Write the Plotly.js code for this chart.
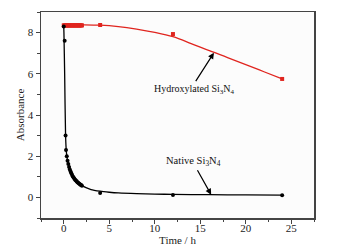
<!DOCTYPE html>
<html><head><meta charset="utf-8">
<script src="https://cdn.plot.ly/plotly-3.0.1.min.js"></script>
<style>html,body{margin:0;padding:0;background:#fff}#c{width:341px;height:252px}</style>
</head><body><div id="c"></div>
<script>
// Native Si3N4 measured points
const nativeT = [0, 0.1, 0.2, 0.25, 0.333, 0.417, 0.5, 0.583, 0.667, 0.75, 0.833, 0.917, 1.0, 1.083, 1.167, 1.25, 1.333, 1.417, 1.5, 1.583, 1.667, 1.75, 1.833, 1.917, 2.0, 4, 12, 24];
const nativeA = [8.3, 7.6, 3.0, 2.3, 2.0, 1.78, 1.62, 1.48, 1.36, 1.26, 1.17, 1.09, 1.02, 0.96, 0.91, 0.86, 0.82, 0.78, 0.74, 0.71, 0.68, 0.65, 0.62, 0.6, 0.57, 0.21, 0.12, 0.1];
// Native fit curve
const nativeFitT = [0, 0.02, 0.1, 0.2, 0.3, 0.5, 0.75, 1.0, 1.5, 2.0, 3, 4, 5, 6, 8, 10, 12, 16, 20, 24];
const nativeFitA = [8.3, 8.0, 6.0, 3.0, 2.15, 1.62, 1.26, 1.02, 0.74, 0.57, 0.38, 0.3, 0.25, 0.215, 0.18, 0.16, 0.145, 0.13, 0.12, 0.11];
// Hydroxylated Si3N4 measured points
const hydroT = [0, 0.083, 0.167, 0.25, 0.333, 0.417, 0.5, 0.583, 0.667, 0.75, 0.833, 0.917, 1.0, 1.083, 1.167, 1.25, 1.333, 1.417, 1.5, 1.583, 1.667, 1.75, 1.833, 1.917, 2.0, 4, 12, 24];
const hydroA = [8.35, 8.35, 8.35, 8.35, 8.35, 8.35, 8.35, 8.35, 8.35, 8.35, 8.35, 8.35, 8.35, 8.35, 8.35, 8.35, 8.35, 8.35, 8.35, 8.35, 8.35, 8.35, 8.35, 8.35, 8.35, 8.37, 7.93, 5.75];
// Hydroxylated fit curve
const hydroFitT = [0, 2, 4, 6, 8, 10, 12, 14, 16, 18, 20, 22, 24];
const hydroFitA = [8.38, 8.38, 8.36, 8.29, 8.17, 8.01, 7.8, 7.47, 7.12, 6.79, 6.45, 6.1, 5.75];

const xTicks = [0, 5, 10, 15, 20, 25];
const yTicks = [0, 2, 4, 6, 8];

const serif = "Liberation Serif, Times New Roman, serif";
const red = "#e0251f";

const traces = [
  {x: hydroFitT, y: hydroFitA, mode: "lines", line: {color: red, width: 1.3, shape: "spline"}, hoverinfo: "skip"},
  {x: hydroT, y: hydroA, mode: "markers", marker: {symbol: "square", size: 4, color: red}},
  {x: nativeFitT, y: nativeFitA, mode: "lines", line: {color: "#000", width: 1.3, shape: "spline", smoothing: 0.6}, hoverinfo: "skip"},
  {x: nativeT, y: nativeA, mode: "markers", marker: {symbol: "circle", size: 4, color: "#000"}}
];

const axisCommon = {
  showline: true, linecolor: "#444", linewidth: 1.5, mirror: true,
  ticks: "outside", ticklen: 4, tickwidth: 1, tickcolor: "#444",
  showgrid: false, zeroline: false,
  tickfont: {family: serif, size: 11, color: "#222"}
};

const layout = {
  width: 341, height: 252,
  margin: {l: 41, r: 27, t: 12, b: 34},
  paper_bgcolor: "#fff", plot_bgcolor: "#fcfcfc",
  showlegend: false,
  xaxis: Object.assign({}, axisCommon, {
    range: [-2.5, 27.5], tickvals: xTicks, ticktext: xTicks.map(String),
    ticklabelstandoff: -5,
    minor: {tickvals: [-2.5, 2.5, 7.5, 12.5, 17.5, 22.5, 27.5], ticklen: 2.5, tickcolor: "#444", ticks: "outside"},
    title: {text: "Time / h", font: {family: serif, size: 11, color: "#222"}, standoff: 0}
  }),
  yaxis: Object.assign({}, axisCommon, {
    range: [-1, 9], tickvals: yTicks, ticktext: yTicks.map(String),
    minor: {tickvals: [-1, 1, 3, 5, 7, 9], ticklen: 2.5, tickcolor: "#444", ticks: "outside"},
    title: {text: "Absorbance", font: {family: serif, size: 11, color: "#222"}, standoff: 1}
  }),
  annotations: [
    {x: 16.5, y: 7.02, ax: 14.4, ay: 5.57, axref: "x", ayref: "y", xref: "x", yref: "y",
     text: "", showarrow: true, arrowhead: 2, arrowsize: 1, arrowwidth: 1.2, arrowcolor: "#000"},
    {x: 16.2, y: 0.13, ax: 14.6, ay: 1.39, axref: "x", ayref: "y", xref: "x", yref: "y",
     text: "", showarrow: true, arrowhead: 2, arrowsize: 1, arrowwidth: 1.2, arrowcolor: "#000"},
    {x: 14.4, y: 5.25, xref: "x", yref: "y", showarrow: false,
     text: "Hydroxylated Si<sub>3</sub>N<sub>4</sub>", font: {family: serif, size: 10, color: "#111"}},
    {x: 14.3, y: 1.73, xref: "x", yref: "y", showarrow: false,
     text: "Native Si<sub>3</sub>N<sub>4</sub>", font: {family: serif, size: 10.5, color: "#111"}}
  ]
};

Plotly.newPlot("c", traces, layout, {displayModeBar: false, staticPlot: true});
</script></body></html>
